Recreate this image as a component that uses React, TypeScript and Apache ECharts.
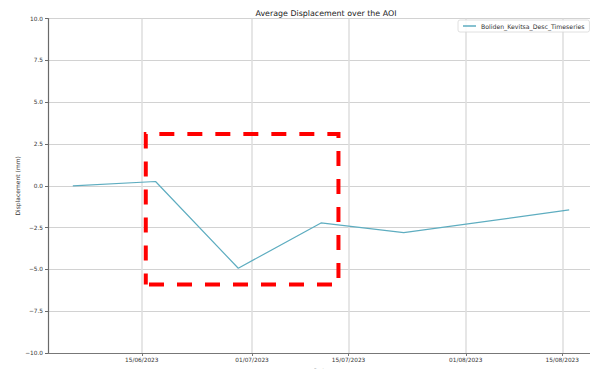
import React, { useEffect, useRef } from "react";
import * as echarts from "echarts";

// Acquisition dates and mean displacement (mm) over the area of interest
const dates = ["2023-06-05", "2023-06-17", "2023-06-29", "2023-07-11", "2023-07-23", "2023-08-16"];
const displacement = [0.0, 0.26, -4.93, -2.22, -2.8, -1.44];
const seriesName = "Boliden_Kevitsa_Desc_Timeseries";

// Date ticks on the x axis
const dateTicks = ["2023-06-15", "2023-07-01", "2023-07-15", "2023-08-01", "2023-08-15"];

// Y axis range and step (mm)
const yMin = -10;
const yMax = 10;
const yStep = 2.5;

// Highlighted period / displacement window
const highlightDates = ["2023-06-15T14:00:00", "2023-07-13T12:45:00"];
const highlightValues = [3.1, -5.9];

const FONT = "DejaVu Sans";
const LINE_COLOR = "#5eadc0";

const toTime = (s: string) => echarts.number.parseDate(s).getTime();

const fmtNum = (v: number) => (v < 0 ? "\u2212" : "") + Math.abs(v).toFixed(1);

const pad2 = (n: number) => (n < 10 ? "0" : "") + n;
const fmtDate = (v: number) => {
  const d = new Date(v);
  return `${pad2(d.getDate())}/${pad2(d.getMonth() + 1)}/${d.getFullYear()}`;
};

export default function App() {
  const ref = useRef<HTMLDivElement>(null);

  useEffect(() => {
    document.body.style.margin = "0";
    if (!ref.current) return;
    const chart = echarts.init(ref.current, undefined, { renderer: "svg" });

    const times = dates.map(toTime);
    const tickTimes = dateTicks.map(toTime);
    const first = times[0];
    const last = times[times.length - 1];
    const pad = (last - first) * 0.05;

    // Dashed box outline, traced clockwise from the lower-left corner
    const [t0, t1] = highlightDates.map(toTime);
    const [vTop, vBottom] = highlightValues;
    const boxPath = [
      [t0, vBottom],
      [t0, vTop],
      [t1, vTop],
      [t1, vBottom],
      [t0, vBottom],
    ];

    chart.setOption({
      animation: false,
      backgroundColor: "#ffffff",
      title: {
        text: "Average Displacement over the AOI",
        left: 321,
        textAlign: "center",
        top: 4,
        textStyle: { fontFamily: FONT, fontSize: 7.9, fontWeight: "normal", color: "#222" },
      },
      legend: {
        left: 458,
        top: 20,
        padding: [3, 5, 3, 5],
        itemWidth: 13,
        itemHeight: 1.5,
        icon: "rect",
        borderColor: "#d8d8d8",
        borderWidth: 0.8,
        borderRadius: 2,
        backgroundColor: "rgba(255,255,255,0.85)",
        textStyle: { fontFamily: FONT, fontSize: 6.2, color: "#333" },
        data: [seriesName],
      },
      grid: { left: 48, top: 18.7, right: -4, bottom: 16, outerBoundsMode: "none", containLabel: false },
      xAxis: {
        type: "value",
        min: first - pad,
        max: last + pad,
        name: "Date",
        nameLocation: "middle",
        nameGap: 11,
        nameTextStyle: { fontFamily: FONT, fontSize: 6, color: "#333" },
        axisLine: { show: true, onZero: false, lineStyle: { color: "#777", width: 1.2 } },
        axisTick: { show: true, length: 3, lineStyle: { color: "#777" }, customValues: tickTimes },
        axisLabel: {
          customValues: tickTimes,
          margin: 4,
          fontFamily: FONT,
          fontSize: 5.8,
          color: "#333",
          formatter: fmtDate,
        },
        splitLine: { show: true, lineStyle: { color: "#dedede", width: 1.5 } },
      },
      yAxis: {
        type: "value",
        min: yMin,
        max: yMax,
        interval: yStep,
        name: "Displacement (mm)",
        nameLocation: "middle",
        nameGap: 28,
        nameMoveOverlap: false,
        nameTextStyle: { fontFamily: FONT, fontSize: 6, color: "#333" },
        axisLine: { show: true, onZero: false, lineStyle: { color: "#6a6a6a", width: 1.2 } },
        axisTick: { show: true, length: 3, lineStyle: { color: "#6a6a6a" } },
        axisLabel: { margin: 5, fontFamily: FONT, fontSize: 5.8, color: "#333", formatter: fmtNum },
        splitLine: { show: true, lineStyle: { color: "#d2d2d2", width: 1 } },
      },
      series: [
        {
          name: seriesName,
          type: "line",
          data: times.map((t, i) => [t, displacement[i]]),
          symbol: "none",
          lineStyle: { color: LINE_COLOR, width: 1.2 },
          itemStyle: { color: LINE_COLOR },
          z: 2,
        },
        {
          name: "box",
          type: "line",
          data: boxPath,
          symbol: "none",
          silent: true,
          z: 4,
          lineStyle: { color: "#ff0000", width: 4, type: [15, 13], dashOffset: 4, cap: "butt", join: "miter" },
          itemStyle: { color: "#ff0000" },
        },
      ],
    });

    return () => chart.dispose();
  }, []);

  return <div ref={ref} style={{ width: 590, height: 369 }} />;
}
